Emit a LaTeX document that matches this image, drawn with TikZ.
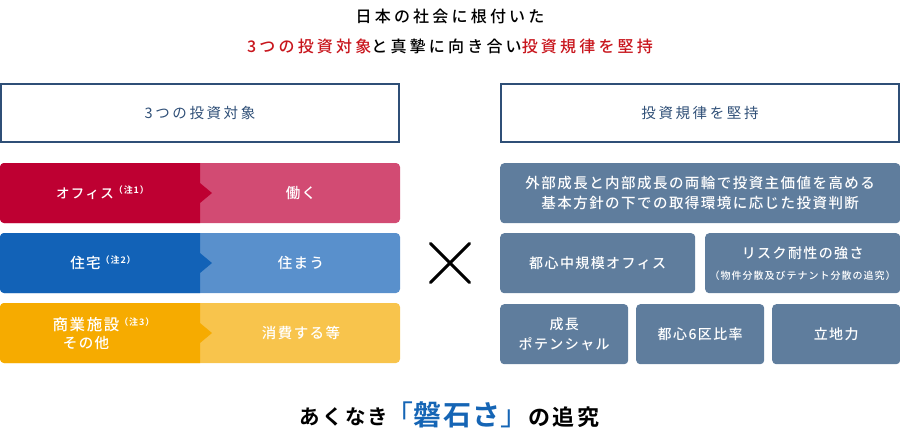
\documentclass[tikz,border=0pt]{standalone}
\usepackage{fontspec}
\usetikzlibrary{shapes.misc}
\newfontfamily\jp[LetterSpace=10]{Noto Sans CJK JP Medium}
\newfontfamily\jpwide[LetterSpace=20]{Noto Sans CJK JP Medium}
\newfontfamily\jplight[LetterSpace=18]{Noto Sans CJK JP}
\newfontfamily\jpbold[LetterSpace=10]{Noto Sans CJK JP Bold}
\newfontfamily\jprock[LetterSpace=7]{Noto Sans CJK JP Bold}
\newfontfamily\jpbracket[LetterSpace=7]{Noto Sans CJK JP}
\newcommand{\notemark}[1]{\raisebox{5pt}{\jpbold\fontsize{9}{9}\selectfont （#1）}}
\definecolor{navy}{HTML}{2F4F77}
\definecolor{slate}{HTML}{5F7D9D}
\definecolor{titlered}{HTML}{C8161D}
\definecolor{rockblue}{HTML}{1565B5}
\definecolor{reddark}{HTML}{BE0032}
\definecolor{redlight}{HTML}{D24B73}
\definecolor{bluedark}{HTML}{1262B7}
\definecolor{bluelight}{HTML}{5990CC}
\definecolor{orangedark}{HTML}{F6AB00}
\definecolor{orangelight}{HTML}{F8C44C}
\tikzset{
  headbox/.style={draw=navy, line width=2, minimum width=398, minimum height=58, inner sep=0, anchor=north west, text=navy, font=\jplight\fontsize{14.5}{20}\selectfont},
  slatebox/.style={fill=slate, rounded corners=4, minimum height=60, inner sep=0, anchor=north west, text=white, align=center, font=\jp\fontsize{14}{20}\selectfont},
  barlabel/.style={text=white, inner sep=0, align=center, font=\jp\fontsize{14.5}{18}\selectfont},
  plainlabel/.style={inner sep=0, font=\jpwide\fontsize{16}{20}\selectfont},
  closinglabel/.style={inner sep=0, font=\jpbold\fontsize{20.5}{24}\selectfont}
}
\begin{document}
\begin{tikzpicture}[x=1pt,y=1pt]
\useasboundingbox (0,0) rectangle (900,-440);
\node[plainlabel] (lead) at (450,-16) {日本の社会に根付いた};
\node[plainlabel] (theme) at (450,-46) {\textcolor{titlered}{3つの投資対象}と真摯に向き合い\textcolor{titlered}{投資規律を堅持}};
\node[headbox] (targets) at (0,-83) {3つの投資対象};
\node[headbox] (rules) at (500,-83) {投資規律を堅持};
% three bars on the left
\foreach \y/\dark/\light/\n in {163/reddark/redlight/1,233/bluedark/bluelight/2,303/orangedark/orangelight/3}{
  \fill[\light, rounded corners=4] (0,-\y) rectangle (400,-\y-60);
  \fill[\dark] (200,-\y) [rounded corners=4] -- (0,-\y) -- (0,-\y-60) [sharp corners] -- (200,-\y-60) -- (200,-\y-40) -- (212,-\y-30) -- (200,-\y-20) -- cycle;
}
\node[barlabel, font=\jp\fontsize{13.5}{18}\selectfont] (office) at (85,-193) {オフィス\rlap{\notemark{注1}}};
\node[barlabel] (work) at (301,-193) {働く};
\node[barlabel] (housing) at (85.5,-263) {住宅\rlap{\notemark{注2}}};
\node[barlabel] (live) at (301,-263) {住まう};
\node[barlabel] (retail) at (86,-334) {{\fontsize{15.5}{18}\selectfont 商業施設}\rlap{\notemark{注3}}\\その他};
\node[barlabel] (spend) at (301,-333) {消費する等};
\node[draw=black, cross out, line width=3, line cap=round, minimum width=36, minimum height=36, inner sep=0] (times) at (450,-263) {};
% boxes on the right
\node[slatebox, minimum width=400, font=\jp\fontsize{14.5}{20}\selectfont] (growth) at (500,-163) {外部成長と内部成長の両輪で投資主価値を高める\\基本方針の下での取得環境に応じた投資判断};
\node[slatebox, minimum width=195] (midsize) at (500,-233) {都心中規模オフィス};
\node[slatebox, minimum width=195] (risk) at (705,-233) {リスク耐性の強さ\\[1pt]{\fontsize{10}{12}\selectfont （物件分散及びテナント分散の追究）}};
\node[slatebox, minimum width=128] (potential) at (500,-304) {成長\\ポテンシャル};
\node[slatebox, minimum width=128] (central) at (636,-304) {都心6区比率};
\node[slatebox, minimum width=128] (location) at (772,-304) {立地力};
% closing line
\node[closinglabel] (unceasing) at (344,-417) {あくなき};
\node[inner sep=0, text=rockblue, font=\jprock\fontsize{28}{30}\selectfont] (rock) at (457,-415) {{\jpbracket 「}磐石さ{\jpbracket 」}};
\node[closinglabel, font=\jpbold\fontsize{22}{24}\selectfont] (pursuit) at (564,-417) {の追究};
\end{tikzpicture}
\end{document}
